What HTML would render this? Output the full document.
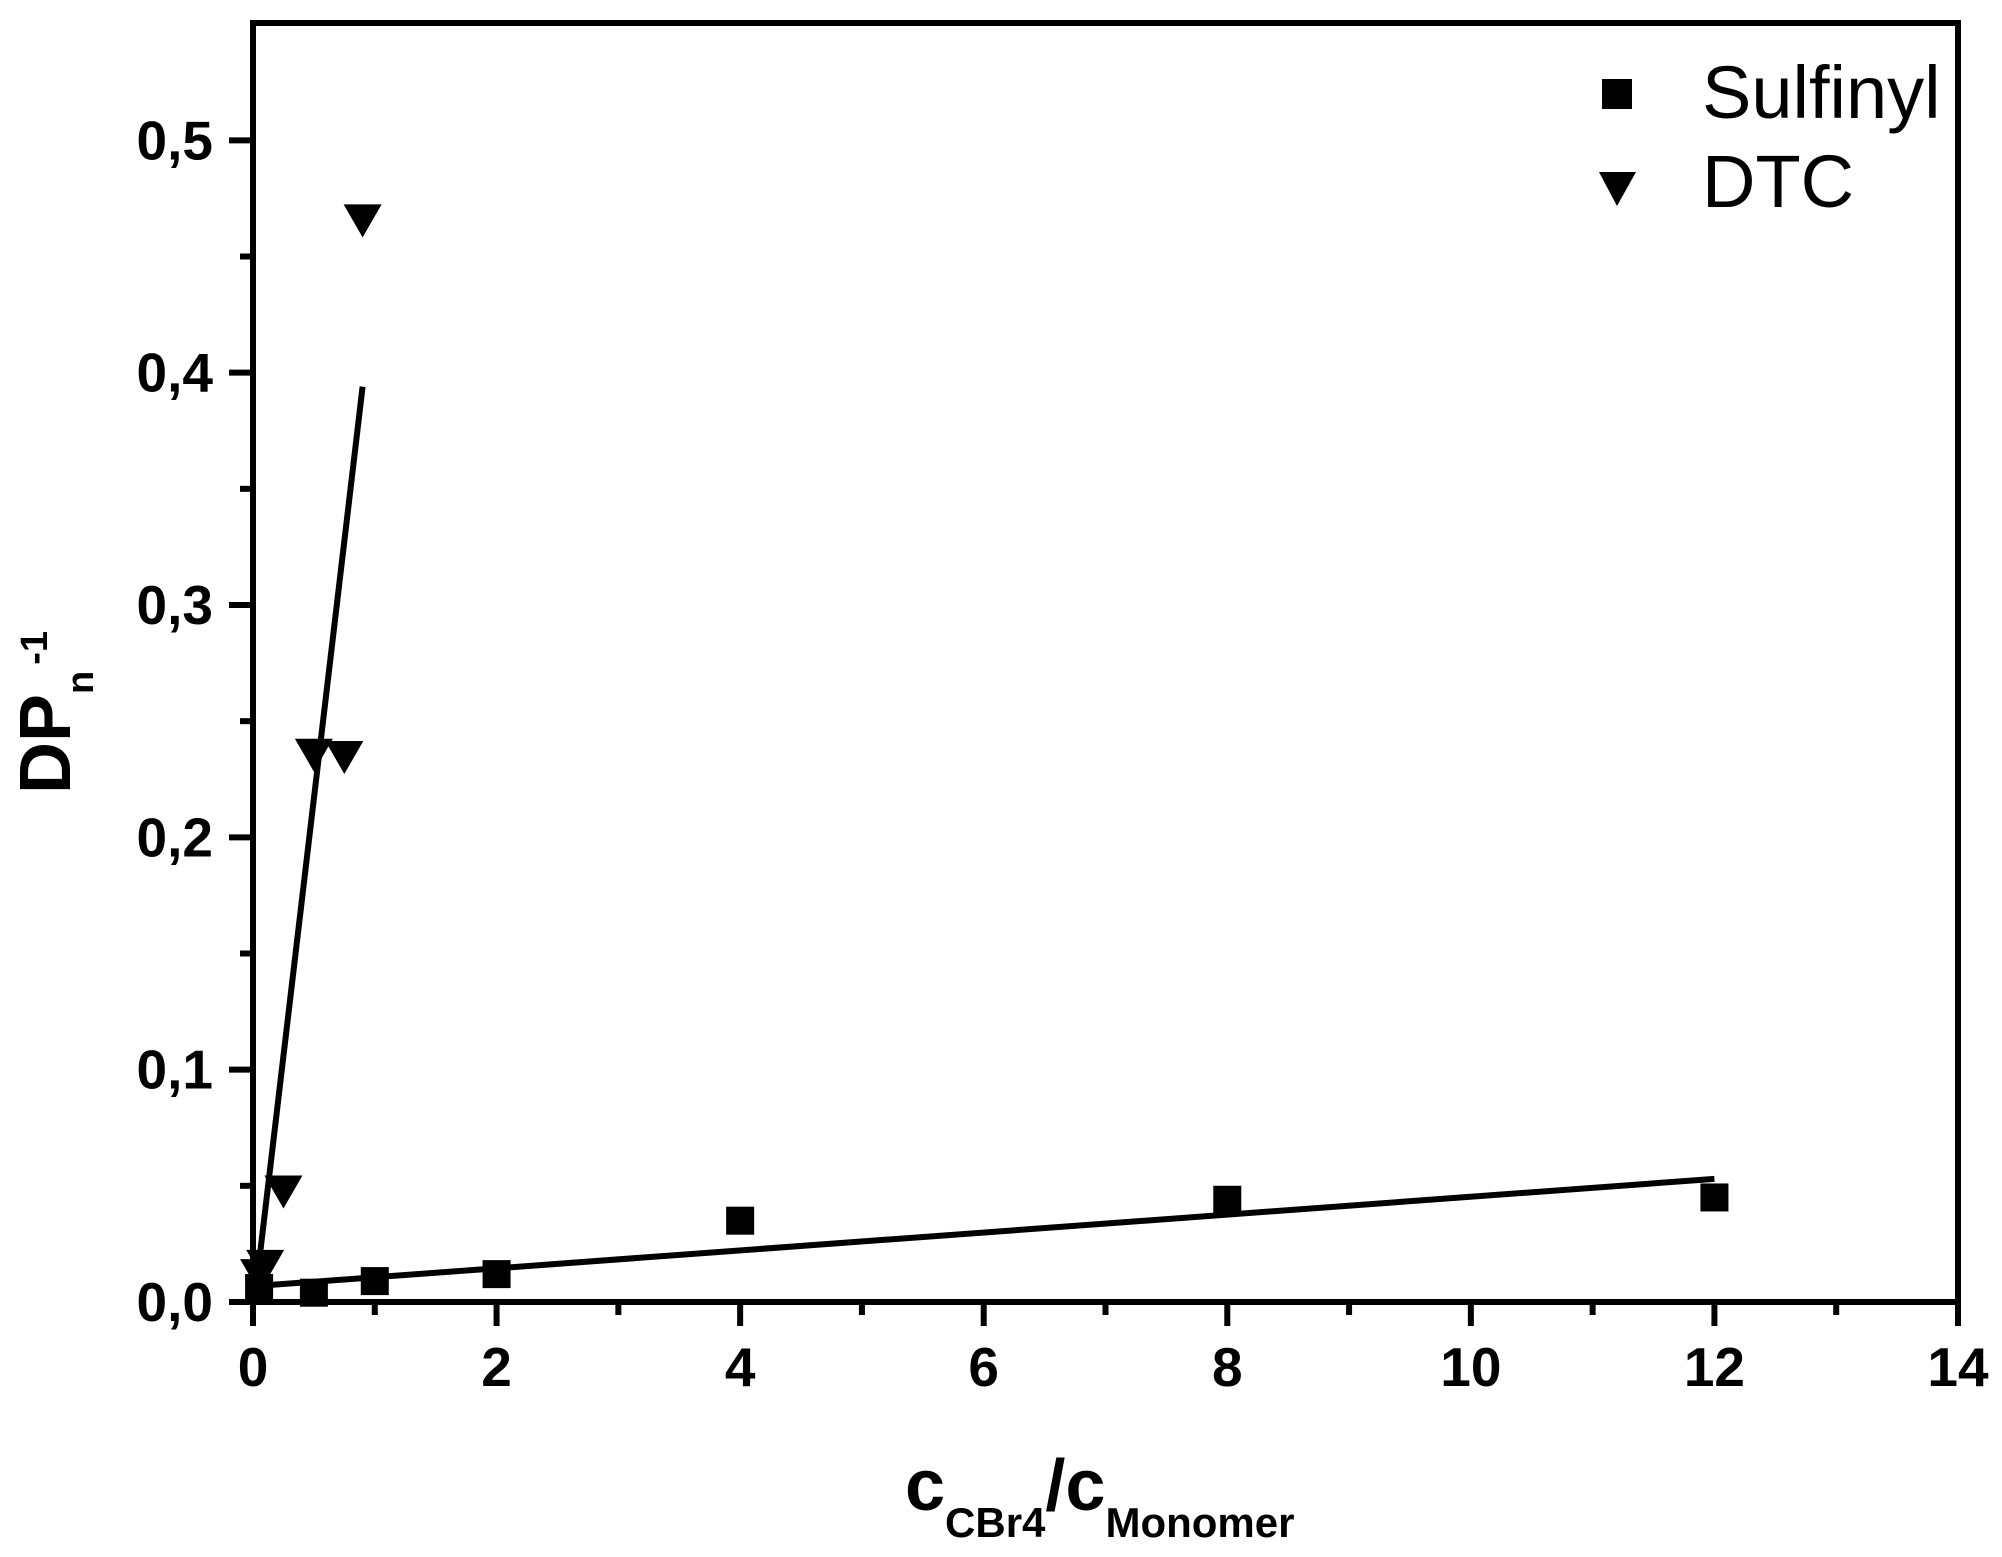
<!DOCTYPE html>
<html><head><meta charset="utf-8"><style>
html,body{margin:0;padding:0;background:#fff}
svg{display:block}
text{font-family:"Liberation Sans",Arial,sans-serif;fill:#000}
</style></head><body>
<svg id="chart" width="2002" height="1557" viewBox="0 0 2002 1557" xmlns="http://www.w3.org/2000/svg">
<g id="axes"></g>
<g id="marks"></g>
<g>
  <rect x="1602" y="79" width="30" height="30" fill="#000"/>
  <text x="1702" y="118" font-size="74">Sulfinyl</text>
  <polygon points="1599,172 1636,172 1617,206" fill="#000"/>
  <text x="1702" y="207" font-size="74">DTC</text>
</g>
<text x="905" y="1510" font-size="72" font-weight="bold">c<tspan font-size="42" dy="27">CBr4</tspan><tspan font-size="72" dy="-27">/c</tspan><tspan font-size="42" dy="27">Monomer</tspan></text>
<text transform="translate(70,794) rotate(-90)" font-size="72" font-weight="bold">DP<tspan font-size="38" dy="23">n</tspan><tspan font-size="38" dy="-46" dx="6">-1</tspan></text>
</svg>
<script>
const xTicks=[0,2,4,6,8,10,12,14];
const yTicks=[0,0.1,0.2,0.3,0.4,0.5];
const yTickLabels=["0,0","0,1","0,2","0,3","0,4","0,5"];
const sulfX=[0.05,0.5,1,2,4,8,12];
const sulfY=[0.006,0.004,0.009,0.012,0.035,0.044,0.045];
const dtcX=[0.05,0.1,0.25,0.5,0.75,0.9];
const dtcY=[0.012,0.016,0.048,0.236,0.235,0.466];
const sulfFitX=[0.05,12];
const sulfFitY=[0.007,0.053];
const dtcFitX=[0.02,0.9];
const dtcFitY=[0.004,0.394];

const L=253,R=1958,T=23,B=1302,XMAX=14,YMAX=0.5505;
const sx=v=>L+v/XMAX*(R-L);
const sy=v=>B-v/YMAX*(B-T);
const NS="http://www.w3.org/2000/svg";
function mk(tag,attrs,parent){const e=document.createElementNS(NS,tag);for(const k in attrs)e.setAttribute(k,attrs[k]);parent.appendChild(e);return e;}
const ax=document.getElementById('axes'),mg=document.getElementById('marks');
const frame=mk('rect',{x:L,y:T,width:R-L,height:B-T,fill:'none',stroke:'#000','stroke-width':6},ax);


for(let i=0;i<xTicks.length;i++){
  const x=sx(xTicks[i]);
  const t=mk('line',{x1:x,x2:x,y1:B,y2:B+24,stroke:'#000','stroke-width':6},ax);
  
  
  const lb=mk('text',{x:x,y:B+84,'font-size':55,'font-weight':'bold','text-anchor':'middle'},ax);
  lb.textContent=xTicks[i];
  
  
  if(i<xTicks.length-1){
    const xm=sx(xTicks[i]+1);
    const m=mk('line',{x1:xm,x2:xm,y1:B,y2:B+13,stroke:'#000','stroke-width':6},ax);
    
    
  }
}
for(let i=0;i<yTicks.length;i++){
  const y=sy(yTicks[i]);
  const t=mk('line',{x1:L-24,x2:L,y1:y,y2:y,stroke:'#000','stroke-width':6},ax);
  
  
  const lb=mk('text',{x:L-40,y:y+19,'font-size':55,'font-weight':'bold','text-anchor':'end'},ax);
  lb.textContent=yTickLabels[i];
  
  
  const ym=sy(yTicks[i]+0.05);
  if(ym>T+5){
    const m=mk('line',{x1:L-13,x2:L,y1:ym,y2:ym,stroke:'#000','stroke-width':6},ax);
    
    
  }
}
const f1=mk('line',{x1:sx(sulfFitX[0]),y1:sy(sulfFitY[0]),x2:sx(sulfFitX[1]),y2:sy(sulfFitY[1]),stroke:'#000','stroke-width':6},mg);


const f2=mk('line',{x1:sx(dtcFitX[0]),y1:sy(dtcFitY[0]),x2:sx(dtcFitX[1]),y2:sy(dtcFitY[1]),stroke:'#000','stroke-width':6},mg);


for(let i=0;i<sulfX.length;i++){
  const x=sx(sulfX[i]),y=sy(sulfY[i]);
  const r=mk('rect',{x:x-14,y:y-14,width:28,height:28,fill:'#000'},mg);
  
  
}
for(let i=0;i<dtcX.length;i++){
  const x=sx(dtcX[i]),y=sy(dtcY[i]);
  const p=mk('polygon',{points:`${x-19},${y-15} ${x+19},${y-15} ${x},${y+18}`,fill:'#000'},mg);
  
  
}
</script>
</body></html>
